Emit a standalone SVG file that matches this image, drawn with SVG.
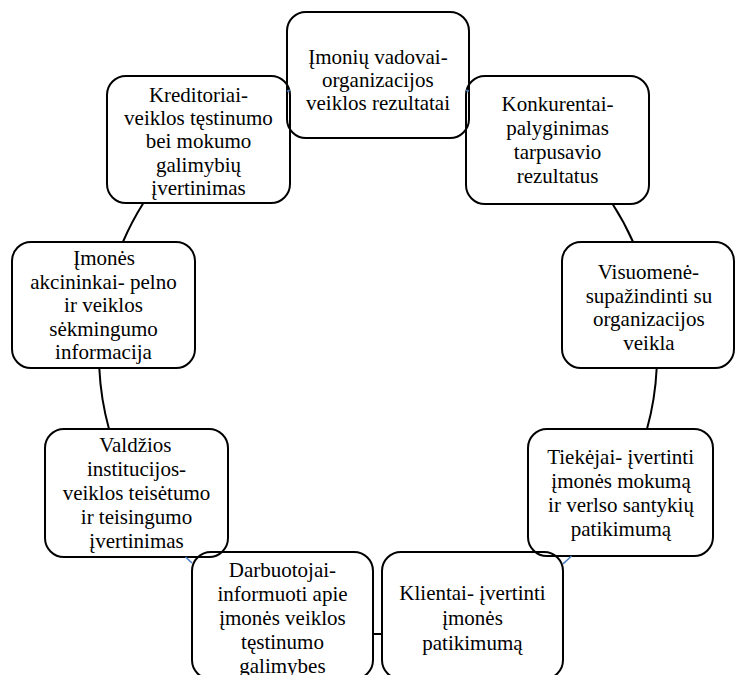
<svg xmlns="http://www.w3.org/2000/svg" width="735" height="675" viewBox="0 0 735 675">
<style>
.box{fill:none;stroke:#000;stroke-width:2}
.arc{fill:none;stroke:#000;stroke-width:2}
.blue{fill:none;stroke:#4A7EC0;stroke-width:1.6}
</style>
<rect x="0" y="0" width="735" height="675" fill="#fff"/>
<g id="nodes">
<g id="n1">
<rect class="box" x="287" y="12" width="182" height="126" rx="19"/>
<text x="308.3" y="64" font-family="Liberation Serif" font-size="21">Įmonių vadovai-</text>
<text x="322" y="87" font-family="Liberation Serif" font-size="21">organizacijos</text>
<text x="306" y="110" font-family="Liberation Serif" font-size="21">veiklos rezultatai</text>
</g>
<g id="n2">
<rect class="box" x="466" y="76" width="183" height="128" rx="19"/>
<text x="501.5" y="111" font-family="Liberation Serif" font-size="21">Konkurentai-</text>
<text x="506.2" y="135" font-family="Liberation Serif" font-size="21">palyginimas</text>
<text x="513.8" y="159" font-family="Liberation Serif" font-size="21">tarpusavio</text>
<text x="516.7" y="183" font-family="Liberation Serif" font-size="21">rezultatus</text>
</g>
<g id="n3">
<rect class="box" x="562" y="242" width="172" height="126" rx="19"/>
<text x="597.7" y="279" font-family="Liberation Serif" font-size="21">Visuomenė-</text>
<text x="585.7" y="302.5" font-family="Liberation Serif" font-size="21">supažindinti su</text>
<text x="593" y="326" font-family="Liberation Serif" font-size="21">organizacijos</text>
<text x="623.3" y="349.5" font-family="Liberation Serif" font-size="21">veikla</text>
</g>
<g id="n4">
<rect class="box" x="528" y="429" width="185" height="127" rx="19"/>
<text x="547.2" y="464" font-family="Liberation Serif" font-size="21">Tiekėjai- įvertinti</text>
<text x="551.3" y="488" font-family="Liberation Serif" font-size="21">įmonės mokumą</text>
<text x="548.1" y="512" font-family="Liberation Serif" font-size="21">ir verlso santykių</text>
<text x="570.8" y="536" font-family="Liberation Serif" font-size="21">patikimumą</text>
</g>
<g id="n5">
<rect class="box" x="382" y="552" width="181" height="127" rx="19"/>
<text x="399.3" y="600" font-family="Liberation Serif" font-size="21">Klientai- įvertinti</text>
<text x="442.2" y="625" font-family="Liberation Serif" font-size="21">įmonės</text>
<text x="422.3" y="650" font-family="Liberation Serif" font-size="21">patikimumą</text>
</g>
<g id="n6">
<rect class="box" x="192" y="552" width="181" height="127" rx="19"/>
<text x="228.8" y="577" font-family="Liberation Serif" font-size="21">Darbuotojai-</text>
<text x="217.5" y="601" font-family="Liberation Serif" font-size="21">informuoti apie</text>
<text x="219.2" y="625" font-family="Liberation Serif" font-size="21">įmonės veiklos</text>
<text x="241.1" y="649" font-family="Liberation Serif" font-size="21">tęstinumo</text>
<text x="239.3" y="673" font-family="Liberation Serif" font-size="21">galimybes</text>
</g>
<g id="n7">
<rect class="box" x="45" y="429" width="183" height="128" rx="19"/>
<text x="99.2" y="452" font-family="Liberation Serif" font-size="21">Valdžios</text>
<text x="86.9" y="476" font-family="Liberation Serif" font-size="21">institucijos-</text>
<text x="62.7" y="500" font-family="Liberation Serif" font-size="21">veiklos teisėtumo</text>
<text x="80.8" y="524" font-family="Liberation Serif" font-size="21">ir teisingumo</text>
<text x="89.3" y="548" font-family="Liberation Serif" font-size="21">įvertinimas</text>
</g>
<g id="n8">
<rect class="box" x="12" y="242" width="183" height="126" rx="19"/>
<text x="73.2" y="265" font-family="Liberation Serif" font-size="21">Įmonės</text>
<text x="30.3" y="288.5" font-family="Liberation Serif" font-size="21">akcininkai- pelno</text>
<text x="64.1" y="312" font-family="Liberation Serif" font-size="21">ir veiklos</text>
<text x="49.3" y="335.5" font-family="Liberation Serif" font-size="21">sėkmingumo</text>
<text x="55.1" y="359" font-family="Liberation Serif" font-size="21">informacija</text>
</g>
<g id="n9">
<rect class="box" x="107" y="76" width="183" height="127" rx="19"/>
<text x="148.9" y="101.5" font-family="Liberation Serif" font-size="21">Kreditoriai-</text>
<text x="124.1" y="125" font-family="Liberation Serif" font-size="21">veiklos tęstinumo</text>
<text x="145.7" y="148" font-family="Liberation Serif" font-size="21">bei mokumo</text>
<text x="155.9" y="171.5" font-family="Liberation Serif" font-size="21">galimybių</text>
<text x="151.3" y="195" font-family="Liberation Serif" font-size="21">įvertinimas</text>
</g>
</g>
<g id="connectors">
<path class="blue" d="M466,90.2 A279,279 0 0 1 469,91.3"/>
<path class="arc" d="M612.6,204 A279,279 0 0 1 633.1,242"/>
<path class="arc" d="M656.7,368 A279,279 0 0 1 647,429"/>
<path class="blue" d="M571.5,556 A279,279 0 0 1 563,563.9"/>
<path class="arc" d="M382,634 A279,279 0 0 1 373,634"/>
<path class="blue" d="M192,563 A279,279 0 0 1 185.6,557"/>
<path class="arc" d="M109,429 A279,279 0 0 1 99.3,368"/>
<path class="arc" d="M122.9,242 A279,279 0 0 1 143.4,203"/>
<path class="blue" d="M287,91.3 A279,279 0 0 1 290,90.2"/>
</g>
</svg>
